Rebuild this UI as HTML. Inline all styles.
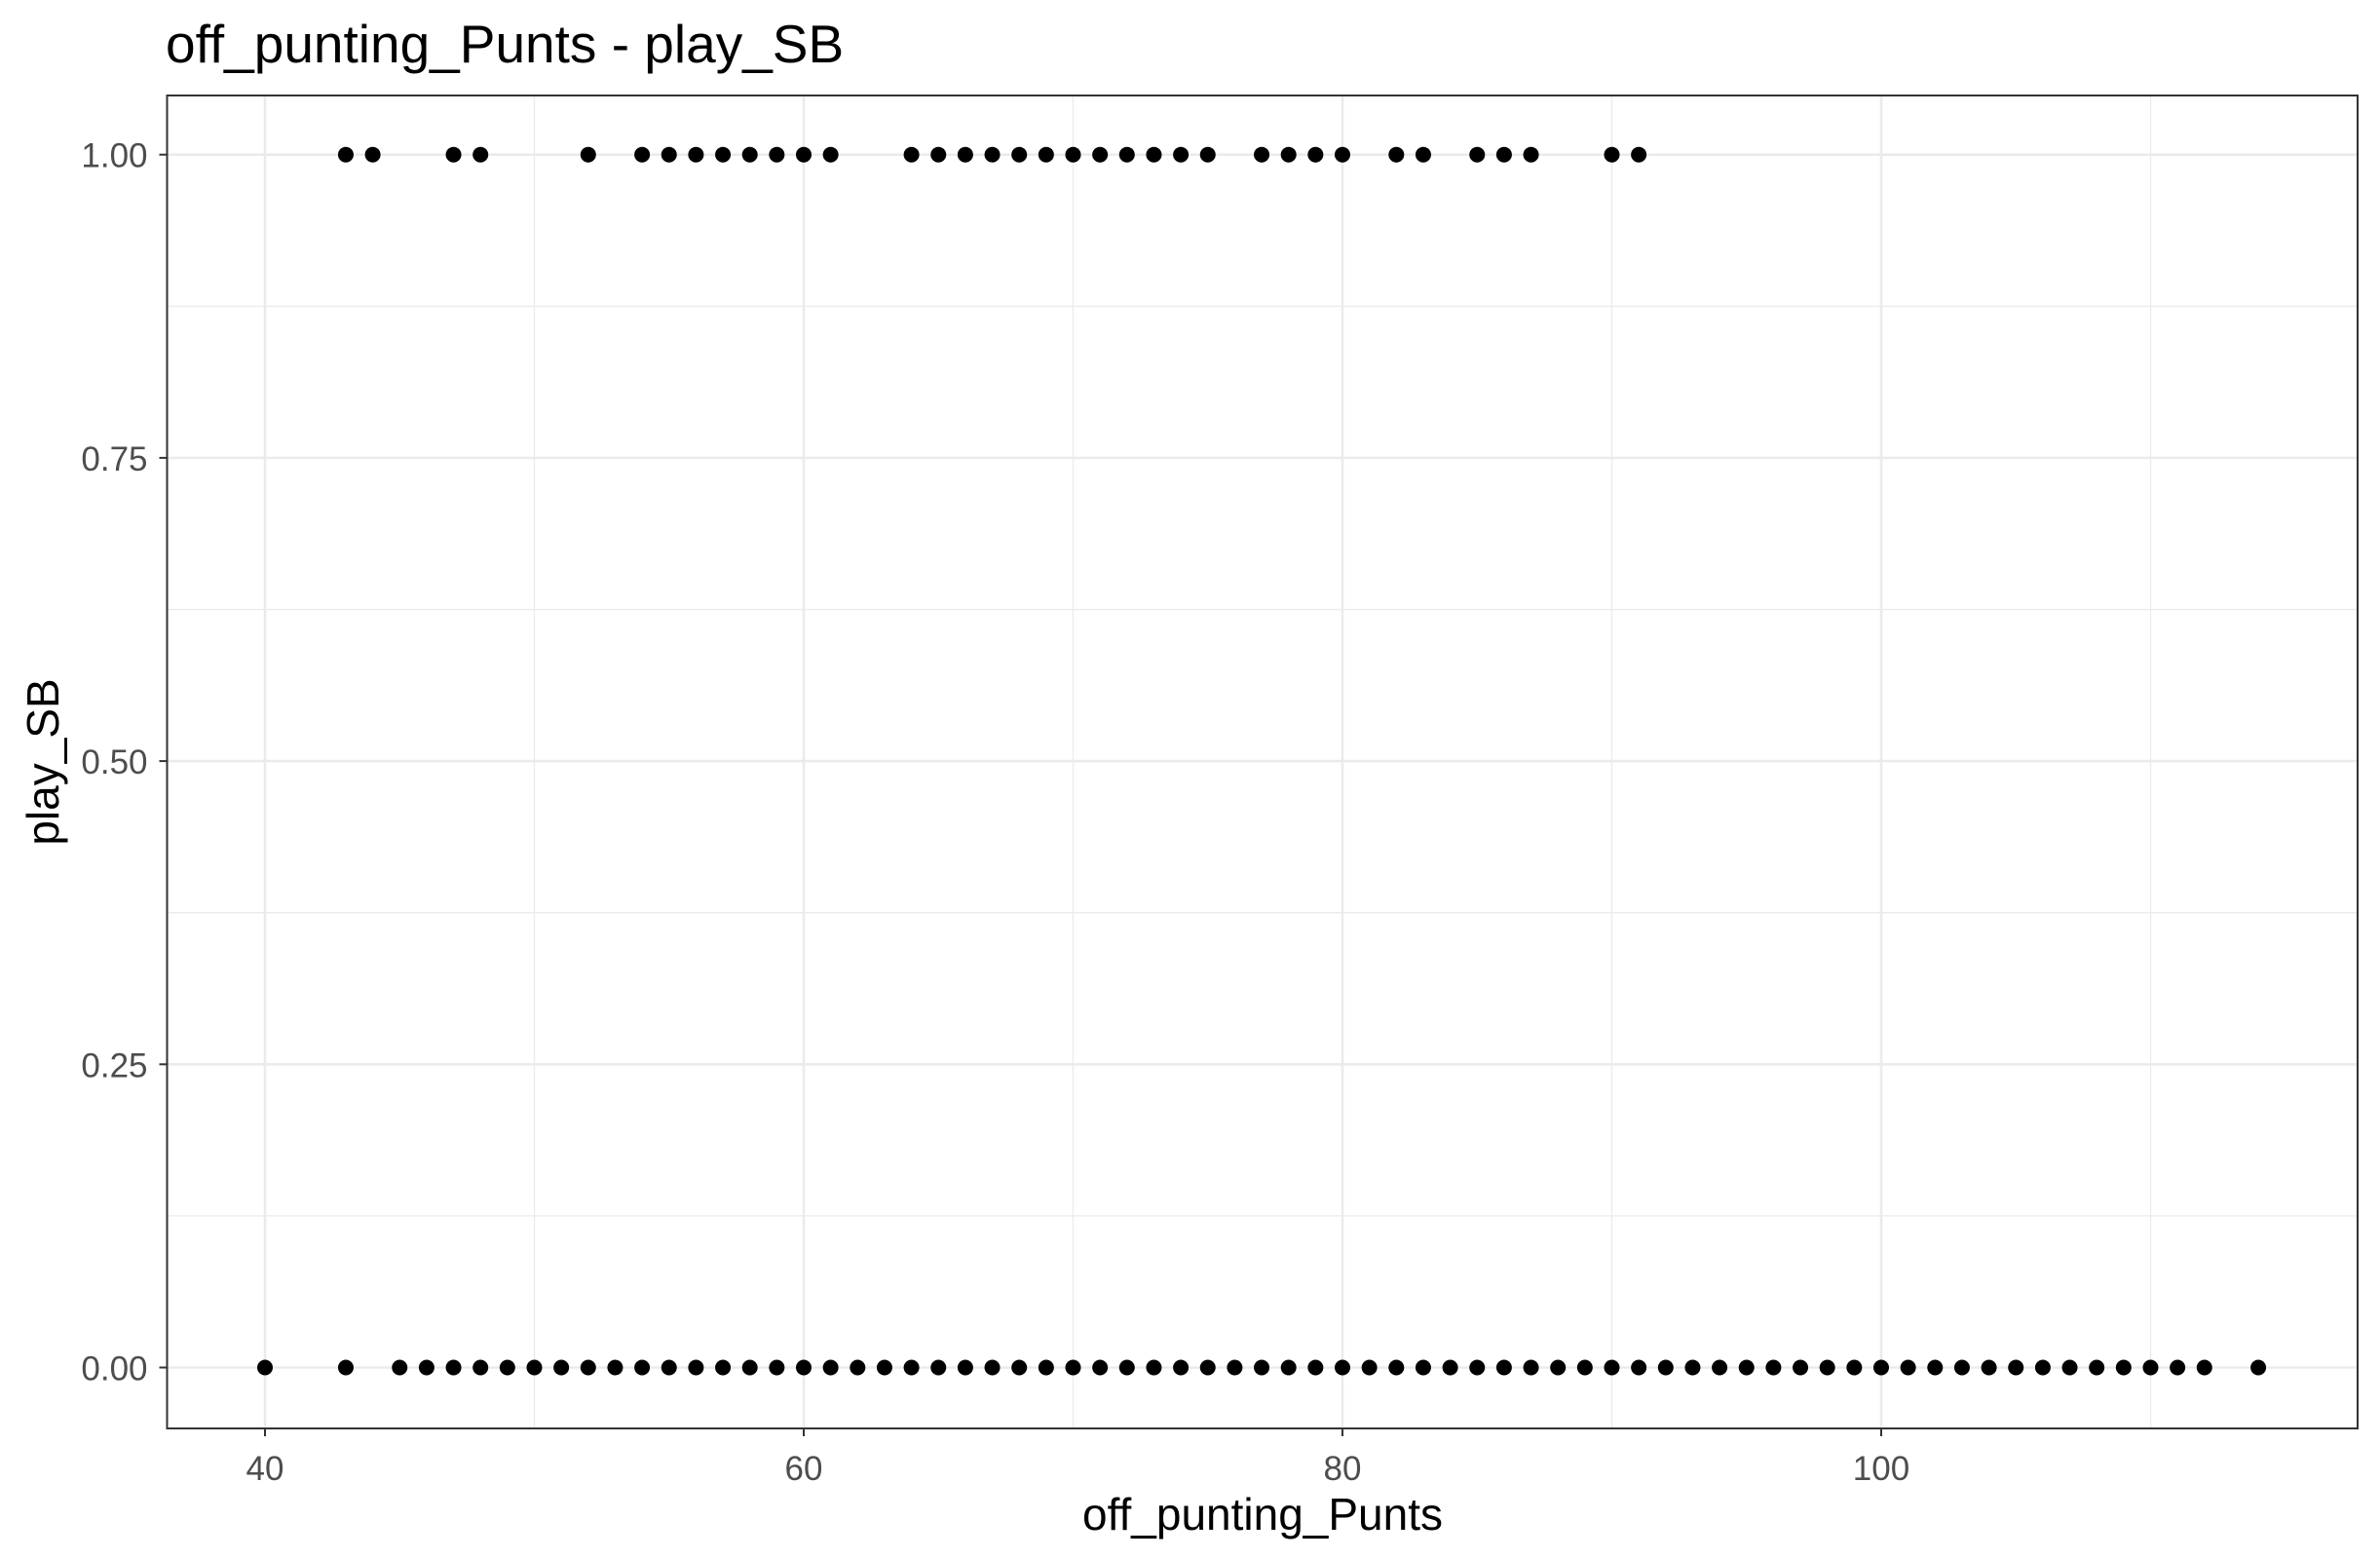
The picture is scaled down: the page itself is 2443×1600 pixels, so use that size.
<!DOCTYPE html>
<html><head><meta charset="utf-8"><style>
html,body{margin:0;padding:0;background:#fff;}
svg{display:block;font-family:"Liberation Sans",Arial,sans-serif;}
</style></head><body>
<svg id="chart" width="2443" height="1600" viewBox="0 0 2443 1600" xmlns="http://www.w3.org/2000/svg">
<rect width="2443" height="1600" fill="#fff"/>
<text x="170" y="64" font-size="55" fill="#000">off_punting_Punts - play_SB</text>
<g id="grid"></g>
<g id="points"></g>
<rect x="171.5" y="98" width="2248.5" height="1368" fill="none" stroke="#333" stroke-width="2"/>
<g id="axes"></g>
<text x="1296" y="1570" font-size="46" text-anchor="middle" fill="#000">off_punting_Punts</text>
<text transform="translate(60,782) rotate(-90)" font-size="46" text-anchor="middle" fill="#000">play_SB</text>
</svg>
<script>
const xTicks = [40, 60, 80, 100];
const xMinor = [50, 70, 90, 110];
const yTicks = [0, 0.25, 0.5, 0.75, 1.0];
const yTickLabels = ["0.00", "0.25", "0.50", "0.75", "1.00"];
const yMinor = [0.125, 0.375, 0.625, 0.875];
const xSB1 = [43,44,47,48,52,54,55,56,57,58,59,60,61,64,65,66,67,68,69,70,71,72,73,74,75,77,78,79,80,82,83,85,86,87,90,91];
const xSB0 = [40,43,45,46,47,48,49,50,51,52,53,54,55,56,57,58,59,60,61,62,63,64,65,66,67,68,69,70,71,72,73,74,75,76,77,78,79,80,81,82,83,84,85,86,87,88,89,90,91,92,93,94,95,96,97,98,99,100,101,102,103,104,105,106,107,108,109,110,111,112,114];

const NS = "http://www.w3.org/2000/svg";
const PL = 171.5, PR = 2420, PT = 98, PB = 1466;
function xs(v){ return 1378 + (v - 80) * 27.65; }
function ys(v){ return 1403.5 - v * 1244.8; }
function mk(tag, attrs, parent){
  const e = document.createElementNS(NS, tag);
  for (const k in attrs) e.setAttribute(k, attrs[k]);
  parent.appendChild(e);
  return e;
}
const grid = document.getElementById('grid');
const pts = document.getElementById('points');
const axes = document.getElementById('axes');

xMinor.forEach(v => {
  const l = mk('line', {x1: xs(v), x2: xs(v), y1: PT, y2: PB, stroke: '#ebebeb', 'stroke-width': 1.3}, grid);
  
  
});
yMinor.forEach(v => {
  const l = mk('line', {x1: PL, x2: PR, y1: ys(v), y2: ys(v), stroke: '#ebebeb', 'stroke-width': 1.3}, grid);
  
  
});
xTicks.forEach(v => {
  const l = mk('line', {x1: xs(v), x2: xs(v), y1: PT, y2: PB, stroke: '#ebebeb', 'stroke-width': 2.6}, grid);
  
  
  const t = mk('line', {x1: xs(v), x2: xs(v), y1: PB, y2: PB + 8, stroke: '#333', 'stroke-width': 2}, axes);
  
  
  const tx = mk('text', {x: xs(v), y: PB + 53, 'font-size': 35, fill: '#4d4d4d', 'text-anchor': 'middle'}, axes);
  tx.textContent = String(v);
  
  
});
yTicks.forEach((v, i) => {
  const l = mk('line', {x1: PL, x2: PR, y1: ys(v), y2: ys(v), stroke: '#ebebeb', 'stroke-width': 2.6}, grid);
  
  
  const t = mk('line', {x1: PL - 8, x2: PL, y1: ys(v), y2: ys(v), stroke: '#333', 'stroke-width': 2}, axes);
  
  
  const tx = mk('text', {x: PL - 20, y: ys(v) + 13, 'font-size': 35, fill: '#4d4d4d', 'text-anchor': 'end'}, axes);
  tx.textContent = yTickLabels[i];
  
  
});
xSB1.forEach(v => {
  const c = mk('circle', {cx: xs(v), cy: ys(1), r: 8, fill: '#000'}, pts);
  
  
});
xSB0.forEach(v => {
  const c = mk('circle', {cx: xs(v), cy: ys(0), r: 8, fill: '#000'}, pts);
  
  
});
</script>
</body></html>
